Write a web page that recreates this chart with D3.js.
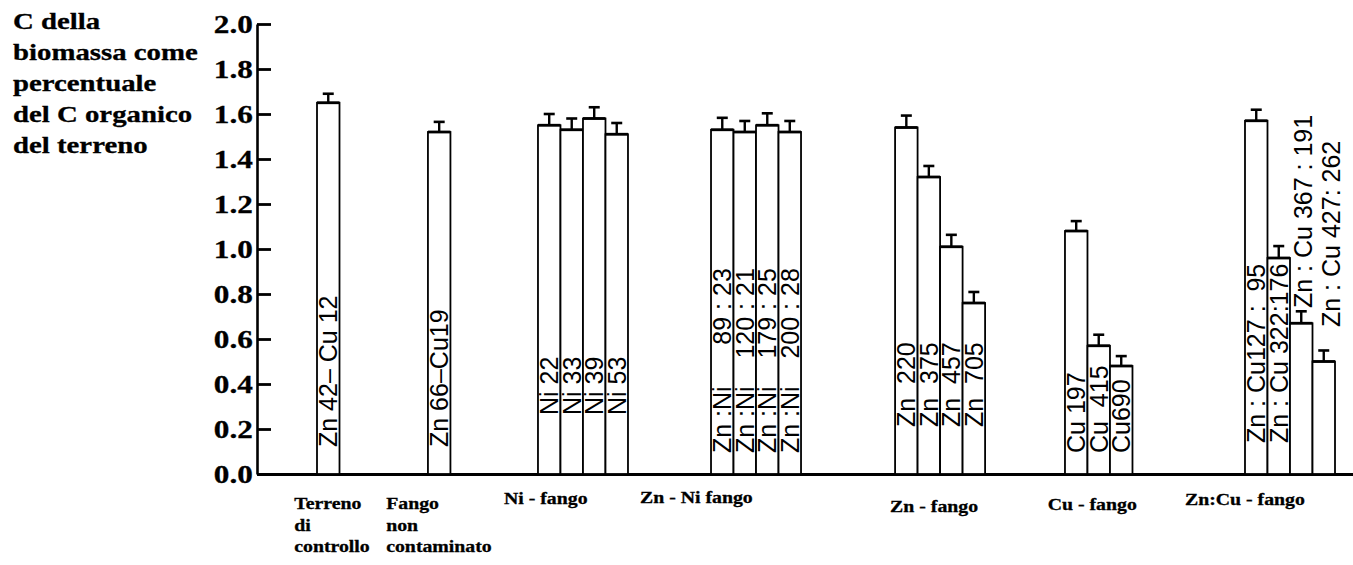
<!DOCTYPE html>
<html>
<head>
<meta charset="utf-8">
<script src="https://cdn.jsdelivr.net/npm/d3@7"></script>
<style>
  html, body { margin: 0; padding: 0; background: #fff; }
  svg { display: block; }
  .serif { font-family: "Liberation Serif", "Times New Roman", serif; font-weight: bold; fill: #000; stroke: #000; stroke-width: 0.3px; }
  .sans { font-family: "Liberation Sans", Arial, Helvetica, sans-serif; fill: #000; white-space: pre; }
</style>
</head>
<body>
<svg id="chart" width="1353" height="565"></svg>
<script>
// ---- data ----
const groupLabels = [
  ["Terreno", "di", "controllo"],
  ["Fango", "non", "contaminato"],
  ["Ni - fango"],
  ["Zn - Ni fango"],
  ["Zn - fango"],
  ["Cu - fango"],
  ["Zn:Cu - fango"]
];
// group index of each bar
const barGroup = [0, 1, 2, 2, 2, 2, 3, 3, 3, 3, 4, 4, 4, 4, 5, 5, 5, 6, 6, 6, 6];
// biomass C as % of soil organic C
const barValues = [1.65, 1.52, 1.55, 1.53, 1.58, 1.51, 1.53, 1.52, 1.55, 1.52,
                   1.54, 1.32, 1.01, 0.76, 1.08, 0.57, 0.48, 1.57, 0.96, 0.67, 0.50];
const barErrors = [0.04, 0.045, 0.05, 0.05, 0.05, 0.05, 0.053, 0.049, 0.053, 0.049,
                   0.053, 0.049, 0.053, 0.049, 0.044, 0.049, 0.044, 0.049, 0.053, 0.053, 0.049];
const barLabels = [
  "Zn 42– Cu 12", "Zn 66–Cu19",
  "Ni 22", "Ni 33", "Ni 39", "Ni 53",
  "Zn :Ni      89 : 23", "Zn :Ni    120 : 21", "Zn :Ni    179 : 25", "Zn :Ni    200 : 28",
  "Zn  220", "Zn  375", "Zn  457", "Zn  705",
  "Cu 197", "Cu  415", "Cu690",
  "Zn : Cu127 :  95", "Zn : Cu 322:176", "Zn : Cu 367 : 191", "Zn : Cu 427: 262"
];
const yTicks = [0.0, 0.2, 0.4, 0.6, 0.8, 1.0, 1.2, 1.4, 1.6, 1.8, 2.0];
const yTitle = ["C della", "biomassa come", "percentuale", "del C organico", "del terreno"];

// ---- layout ----
const gapBefore = [0, 3.93, 3.89, 3.69, 4.18, 3.55, 5.0];     // space before each group, in bar widths
const groupLabelDx = [-34, -53, -79, -116, -50, -51, -105];    // label left edge relative to group centre
const groupLabelY = [509, 509, 504, 503, 512, 510, 505];
const labelLift = [27, 27, 59, 59, 59, 59, 21, 21, 21, 21, 47, 47, 47, 47,
                   21, 21, 21, 31, 31, 166, 147];              // px from axis to start of bar text
const labelDx = [0, 0, 0, 0, 0, 0, 0, 0, 0, 0, 0, 0, 0, 0, 0, 0, 0, 0, 0, 2, 7];
const STRETCH = 1.2;

const svg = d3.select("#chart");

// slot positions of bars
const slots = [];
let cursor = 0, prevGroup = -1;
barGroup.forEach((g) => {
  if (g !== prevGroup) { cursor += gapBefore[g]; prevGroup = g; }
  slots.push(cursor);
  cursor += 1;
});
const totalSlots = cursor;

const x = d3.scaleLinear().domain([0, totalSlots]).range([317, 1335]);
const y = d3.scaleLinear().domain([0, 2.0]).range([474, 24]);
const bw = x(1) - x(0);

// ---- axes ----
const yAxis = d3.axisLeft(y)
  .tickValues(yTicks)
  .tickFormat(d3.format(".1f"))
  .tickSizeInner(-14)
  .tickSizeOuter(0)
  .tickPadding(3.5);

const gy = svg.append("g").attr("transform", "translate(257,0)").call(yAxis);
gy.select(".domain").attr("stroke", "#000").attr("stroke-width", 2.6);
gy.selectAll(".tick line").attr("stroke", "#000").attr("stroke-width", 2.8);
gy.selectAll(".tick text")
  .attr("class", "serif")
  .attr("font-size", 26)
  .attr("dy", "0.33em")
  .attr("transform", `scale(${STRETCH},1)`);

// x baseline
const xAxis = d3.axisBottom(d3.scaleLinear().domain([0, 1]).range([257, 1353]))
  .tickValues([]).tickSizeOuter(0);
const gx = svg.append("g").attr("transform", `translate(0,${y(0)})`).call(xAxis);
gx.select(".domain").attr("stroke", "#000").attr("stroke-width", 3);

// ---- bars ----
const bars = svg.append("g");
barValues.forEach((v, i) => {
  const x0 = x(slots[i]);
  bars.append("rect")
    .attr("x", x0).attr("y", y(v))
    .attr("width", bw).attr("height", y(0) - y(v))
    .attr("fill", "#fff").attr("stroke", "#000").attr("stroke-width", 1.8);
  // thicker top edge
  bars.append("line")
    .attr("x1", x0).attr("x2", x0 + bw)
    .attr("y1", y(v)).attr("y2", y(v))
    .attr("stroke", "#000").attr("stroke-width", 2.8);
  // error bar
  const cx = x0 + bw / 2;
  bars.append("line")
    .attr("x1", cx).attr("x2", cx)
    .attr("y1", y(v)).attr("y2", y(v + barErrors[i]))
    .attr("stroke", "#000").attr("stroke-width", 2.4);
  bars.append("line")
    .attr("x1", cx - 5.5).attr("x2", cx + 5.5)
    .attr("y1", y(v + barErrors[i])).attr("y2", y(v + barErrors[i]))
    .attr("stroke", "#000").attr("stroke-width", 2.6);
});

// bar texts, rotated
const texts = svg.append("g");
barLabels.forEach((t, i) => {
  const cx = x(slots[i]) + bw / 2 + labelDx[i];
  const by = y(0) - labelLift[i];
  texts.append("text")
    .attr("class", "sans")
    .attr("font-size", 25)
    .attr("transform", `translate(${cx},${by}) rotate(-90)`)
    .attr("dy", "0.36em")
    .attr("text-anchor", "start")
    .text(t);
});

// ---- group labels ----
const groupCentre = groupLabels.map((_, g) => {
  const idx = barGroup.map((d, i) => d === g ? i : -1).filter(i => i >= 0);
  return (x(slots[idx[0]]) + x(slots[idx[idx.length - 1]] + 1)) / 2;
});
groupLabels.forEach((lines, g) => {
  lines.forEach((ln, k) => {
    svg.append("text")
      .attr("class", "serif")
      .attr("font-size", 16.5)
      .attr("transform", `translate(${groupCentre[g] + groupLabelDx[g]},${groupLabelY[g] + k * 21.5}) scale(${STRETCH},1)`)
      .text(ln);
  });
});

// ---- y title ----
yTitle.forEach((ln, k) => {
  svg.append("text")
    .attr("class", "serif")
    .attr("font-size", 24)
    .attr("transform", `translate(13,${29 + k * 31}) scale(${STRETCH},1)`)
    .text(ln);
});
</script>
</body>
</html>
